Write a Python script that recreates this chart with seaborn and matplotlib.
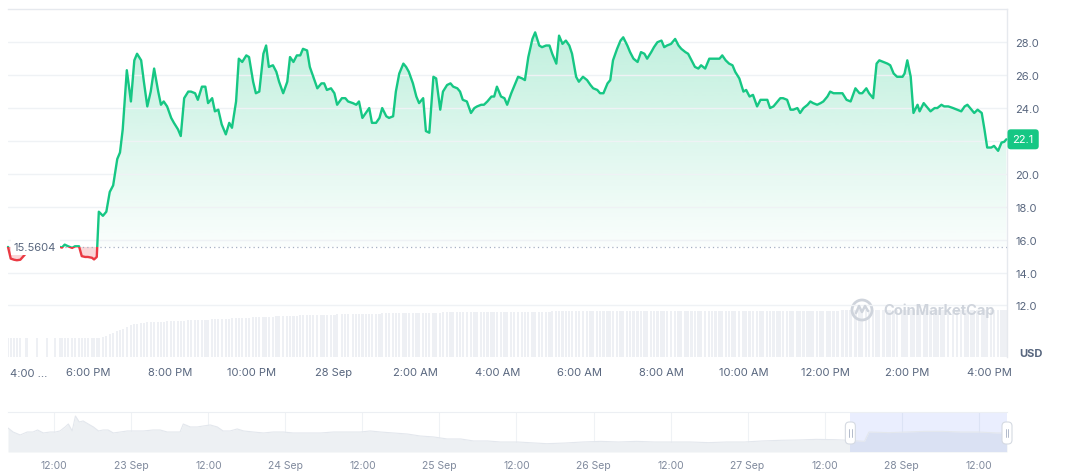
import matplotlib
matplotlib.use("Agg")
import matplotlib.pyplot as plt
import matplotlib.transforms as mtransforms
from matplotlib.colors import to_rgb
from matplotlib.patches import Rectangle, FancyBboxPatch, Ellipse
from matplotlib.path import Path
from matplotlib.lines import Line2D
import numpy as np
import pandas as pd
import seaborn as sns

# main chart: minutes after 4:00 PM (27 Sep), price in USD, 24h volume (relative)
minutes = [
    3, 7, 12, 16, 21, 30, 45, 60, 72, 79,
    82, 86, 91, 97, 101, 107, 111, 116, 120, 126,
    129, 133, 136, 142, 147, 152, 157, 163, 167, 171,
    177, 183, 188, 192, 198, 202, 207, 212, 217, 223,
    227, 231, 236, 242, 246, 252, 256, 261, 267, 271,
    277, 281, 287, 292, 296, 302, 306, 311, 316, 322,
    327, 331, 337, 341, 346, 352, 356, 362, 366, 371,
    377, 381, 385, 391, 396, 400, 406, 412, 416, 421,
    426, 431, 435, 441, 445, 450, 456, 462, 466, 470,
    476, 481, 485, 492, 497, 501, 508, 513, 517, 522,
    527, 532, 536, 542, 547, 551, 557, 561, 567, 571,
    576, 582, 586, 590, 596, 601, 605, 611, 615, 620,
    626, 630, 636, 640, 646, 651, 655, 661, 665, 669,
    675, 681, 686, 690, 696, 700, 705, 711, 715, 719,
    725, 730, 734, 740, 744, 750, 756, 760, 765, 771,
    775, 781, 785, 791, 796, 800, 806, 810, 815, 820,
    825, 829, 835, 839, 845, 851, 856, 860, 866, 870,
    875, 881, 885, 889, 895, 900, 904, 910, 914, 919,
    925, 930, 935, 939, 945, 949, 954, 960, 964, 968,
    974, 980, 985, 989, 995, 999, 1004, 1009, 1014, 1018,
    1024, 1030, 1034, 1039, 1045, 1049, 1054, 1059, 1064, 1068,
    1074, 1080, 1084, 1089, 1094, 1100, 1105, 1109, 1115, 1119,
    1124, 1130, 1134, 1138, 1144, 1149, 1153, 1159, 1163, 1168,
    1174, 1178, 1182, 1188, 1193, 1197, 1203, 1207, 1212, 1218,
    1225, 1231, 1237, 1244, 1250, 1254, 1260, 1264, 1270, 1275,
    1279, 1285, 1291, 1295, 1300, 1305, 1313, 1316, 1320, 1325,
    1329, 1335, 1338, 1344, 1348, 1354, 1360, 1364, 1370, 1374,
    1380, 1387, 1393, 1399, 1404, 1408, 1414, 1418, 1423, 1429,
    1433, 1437, 1443, 1447, 1453, 1458, 1462, 1465,
]
price = [
    15.56, 14.85, 14.78, 14.75, 14.78, 15.2, 15.45, 15.6, 15.55, 15.56,
    15.52, 15.7, 15.6, 15.5, 15.6, 15.6, 15.0, 14.95, 14.95, 14.9,
    14.8, 14.95, 17.7, 17.45, 17.7, 18.9, 19.3, 20.9, 21.3, 22.7,
    26.3, 24.4, 26.9, 27.3, 26.9, 25.6, 24.1, 25.0, 26.4, 25.0,
    24.2, 24.4, 24.1, 23.4, 23.1, 22.7, 22.3, 24.6, 25.0, 25.0,
    24.9, 24.5, 25.3, 25.3, 24.3, 24.6, 23.8, 23.9, 23.0, 22.4,
    23.1, 22.8, 24.4, 27.0, 26.8, 27.2, 27.1, 25.6, 24.9, 25.0,
    27.3, 27.8, 26.5, 26.6, 26.2, 25.6, 24.9, 25.6, 27.1, 26.8,
    27.2, 27.2, 27.6, 27.5, 26.5, 25.9, 25.2, 25.5, 25.5, 25.1,
    25.2, 24.9, 24.2, 24.6, 24.6, 24.4, 24.3, 24.2, 24.4, 23.4,
    23.7, 24.0, 23.1, 23.1, 23.4, 24.0, 23.5, 23.4, 23.5, 25.0,
    26.1, 26.7, 26.5, 26.2, 25.5, 24.7, 24.3, 24.6, 22.6, 22.5,
    25.9, 25.8, 23.9, 25.0, 25.4, 25.5, 25.3, 25.2, 25.0, 24.5,
    24.4, 23.7, 24.0, 24.1, 24.2, 24.2, 24.4, 24.7, 24.7, 25.3,
    24.7, 24.6, 24.2, 24.9, 25.3, 25.9, 25.8, 25.7, 27.1, 28.2,
    28.6, 27.8, 27.7, 27.8, 27.8, 27.3, 26.7, 28.4, 27.9, 28.1,
    27.8, 27.3, 25.9, 25.6, 25.9, 25.7, 25.4, 25.2, 25.1, 24.9,
    24.9, 25.5, 25.7, 26.9, 27.6, 28.1, 28.3, 27.8, 27.4, 27.0,
    26.8, 27.4, 27.3, 27.0, 27.4, 27.7, 28.0, 28.1, 27.7, 27.8,
    27.9, 28.2, 27.8, 27.6, 27.4, 27.3, 26.9, 26.5, 26.4, 26.6,
    26.4, 27.0, 27.0, 27.0, 27.0, 27.2, 26.9, 26.7, 26.6, 26.2,
    25.8, 25.0, 25.1, 24.7, 24.8, 24.1, 24.5, 24.5, 24.5, 24.0,
    24.1, 24.4, 24.6, 24.6, 24.5, 23.9, 23.9, 24.0, 23.7, 24.0,
    24.2, 24.4, 24.3, 24.2, 24.3, 24.4, 24.7, 25.0, 24.9, 24.9,
    24.9, 24.5, 24.4, 25.2, 24.9, 24.9, 25.2, 24.9, 24.6, 26.7,
    26.9, 26.8, 26.7, 26.6, 26.1, 25.9, 25.9, 26.1, 26.9, 25.9,
    23.7, 24.2, 23.8, 24.3, 24.1, 23.8, 24.0, 24.0, 24.2, 24.1,
    24.1, 24.0, 23.9, 23.8, 24.1, 24.2, 23.9, 23.7, 23.9, 23.7,
    22.7, 21.6, 21.6, 21.7, 21.4, 21.9, 21.95, 22.1,
]
volume = [
    1.9, 1.9, 1.9, 1.9, 1.9, 1.9, 1.9, 1.9, 1.9, 1.9,
    1.9, 1.9, 1.9, 1.9, 1.9, 1.9, 1.9, 1.9, 1.9, 1.9,
    1.9, 1.9, 1.9, 2.0, 2.1, 2.3, 2.4, 2.6, 2.7, 2.8,
    3.0, 3.2, 3.3, 3.35, 3.4, 3.45, 3.5, 3.5, 3.5, 3.55,
    3.55, 3.55, 3.6, 3.6, 3.6, 3.65, 3.65, 3.65, 3.7, 3.7,
    3.7, 3.7, 3.75, 3.75, 3.75, 3.8, 3.8, 3.8, 3.85, 3.85,
    3.85, 3.9, 3.9, 3.9, 3.95, 3.95, 3.95, 4.0, 4.0, 4.0,
    4.0, 4.05, 4.05, 4.05, 4.1, 4.1, 4.1, 4.1, 4.15, 4.15,
    4.15, 4.2, 4.2, 4.2, 4.2, 4.2, 4.2, 4.25, 4.25, 4.25,
    4.25, 4.25, 4.3, 4.3, 4.3, 4.3, 4.3, 4.3, 4.35, 4.35,
    4.35, 4.35, 4.35, 4.35, 4.35, 4.4, 4.4, 4.4, 4.4, 4.4,
    4.4, 4.4, 4.4, 4.4, 4.45, 4.45, 4.45, 4.45, 4.45, 4.45,
    4.45, 4.45, 4.45, 4.5, 4.5, 4.5, 4.5, 4.5, 4.5, 4.5,
    4.5, 4.5, 4.5, 4.5, 4.5, 4.55, 4.55, 4.55, 4.55, 4.55,
    4.55, 4.55, 4.55, 4.55, 4.55, 4.55, 4.55, 4.55, 4.55, 4.55,
    4.55, 4.55, 4.55, 4.55, 4.55, 4.6, 4.6, 4.6, 4.6, 4.6,
    4.6, 4.6, 4.6, 4.6, 4.6, 4.6, 4.6, 4.6, 4.6, 4.6,
    4.6, 4.6, 4.6, 4.6, 4.6, 4.6, 4.6, 4.6, 4.6, 4.6,
    4.6, 4.6, 4.6, 4.6, 4.6, 4.6, 4.6, 4.6, 4.6, 4.6,
    4.6, 4.6, 4.6, 4.6, 4.6, 4.6, 4.65, 4.65, 4.65, 4.65,
    4.65, 4.65, 4.65, 4.65, 4.65, 4.65, 4.65, 4.65, 4.65, 4.65,
    4.65, 4.65, 4.65, 4.65, 4.65, 4.65, 4.65, 4.65, 4.65, 4.65,
    4.65, 4.65, 4.65, 4.65, 4.65, 4.65, 4.65, 4.65, 4.65, 4.65,
    4.65, 4.65, 4.65, 4.65, 4.65, 4.65, 4.65, 4.65, 4.65, 4.65,
    4.7, 4.7, 4.7, 4.7, 4.7, 4.7, 4.7, 4.7, 4.7, 4.7,
    4.7, 4.7, 4.7, 4.7, 4.7, 4.7, 4.7, 4.7, 4.7, 4.7,
    4.7, 4.7, 4.7, 4.7, 4.7, 4.7, 4.7, 4.7, 4.7, 4.7,
    4.7, 4.7, 4.7, 4.7, 4.7, 4.7, 4.7, 4.7, 4.7, 4.7,
    4.7, 4.7, 4.7, 4.7, 4.7, 4.7, 4.7, 4.7,
]
open_price = 15.5604
last_price = 22.1

time_ticks = [120, 240, 360, 480, 600, 720, 840, 960, 1080, 1200, 1320, 1440]
time_labels = ["6:00 PM", "8:00 PM", "10:00 PM", "28 Sep", "2:00 AM", "4:00 AM",
               "6:00 AM", "8:00 AM", "10:00 AM", "12:00 PM", "2:00 PM", "4:00 PM"]
price_ticks = [12, 14, 16, 18, 20, 22, 24, 26, 28]

# navigator: hours after 22 Sep 00:00, price in USD
nav_hours = [
    4.8, 5.6, 6.7, 7.8, 8.7, 9.4, 10.3, 11.4, 12.2, 12.9,
    13.7, 14.2, 14.8, 15.3, 15.9, 16.5, 17.3, 18.1, 18.9, 19.6,
    20.4, 21.2, 22.3, 23.4, 24.3, 25.9, 27.4, 28.5, 29.6, 30.5,
    31.6, 32.1, 33.2, 34.3, 35.2, 36.3, 37.4, 38.3, 39.4, 40.5,
    41.5, 43.0, 44.6, 46.1, 47.7, 49.2, 51.4, 53.5, 55.5, 57.7,
    59.7, 61.2, 62.8, 64.8, 67.0, 69.0, 71.1, 73.2, 75.3, 77.3,
    79.5, 81.5, 84.2, 85.9, 88.7, 91.5, 94.3, 97.1, 99.9, 102.7,
    105.5, 108.3, 111.1, 113.9, 116.7, 119.5, 122.3, 125.1, 127.9, 130.7,
    133.6, 136.0, 138.2, 138.9, 142.0, 144.8, 147.6, 150.4, 153.2, 156.0,
    158.8, 160.4,
]
nav_price = [
    30.0, 25.0, 21.3, 25.0, 25.0, 27.5, 23.8, 25.0, 25.0, 26.3,
    31.3, 35.0, 26.3, 45.0, 37.5, 38.8, 35.0, 31.3, 26.3, 27.5,
    27.5, 23.8, 25.0, 26.3, 26.3, 26.3, 27.5, 27.5, 25.0, 25.0,
    25.0, 35.0, 31.3, 31.3, 32.5, 33.8, 31.3, 26.3, 26.3, 28.8,
    26.3, 25.0, 23.8, 25.0, 25.0, 23.8, 23.8, 23.8, 25.0, 25.0,
    25.0, 26.3, 25.0, 23.8, 22.5, 20.0, 18.8, 16.3, 16.3, 13.8,
    13.8, 12.5, 12.5, 11.7, 10.4, 11.2, 12.5, 13.3, 12.5, 13.3,
    12.5, 12.5, 12.5, 11.7, 12.5, 12.5, 13.8, 14.6, 15.0, 15.8,
    15.4, 14.6, 13.3, 25.0, 24.2, 25.0, 25.8, 25.8, 25.0, 25.0,
    23.8, 23.8,
]
nav_ticks = [12, 24, 36, 48, 60, 72, 84, 96, 108, 120, 132, 144, 156]
nav_labels = ["12:00", "23 Sep", "12:00", "24 Sep", "12:00", "25 Sep", "12:00",
              "26 Sep", "12:00", "27 Sep", "12:00", "28 Sep", "12:00"]
selection = (136.0, 160.4)

GREEN = "#16c784"
RED = "#ea3943"
TEXT = "#58667e"
GRID = "#eff2f5"

sns.set_theme(style="white")
plt.rcParams["font.family"] = ["Inter", "DejaVu Sans"]

W, H = 1072, 477
fig = plt.figure(figsize=(W / 100, H / 100), dpi=100, facecolor="white")


def box(left, top, right, bottom):
    return [left / W, 1 - bottom / H, (right - left) / W, (bottom - top) / H]


df = pd.DataFrame({"minute": minutes, "price": price, "volume": volume})
xlim = (3, 1466)

# volume strip under the price chart
vol_ax = fig.add_axes(box(8, 306, 1007, 358), zorder=0)
vol_ax.bar(df["minute"], df["volume"], width=3.4, color="#eef0f4", linewidth=0)
vol_ax.set_xlim(*xlim)
vol_ax.set_ylim(0, 5.2)
vol_ax.axis("off")

ax = fig.add_axes(box(8, 9.5, 1007, 358), zorder=1)
ax.set_facecolor("none")

m = df["minute"].to_numpy()
p = df["price"].to_numpy()

# gradient fill above the open price
poly = ax.fill_between(m, p, open_price, where=p >= open_price, interpolate=True,
                       facecolor="none", edgecolor="none")
clip = Path.make_compound_path(*poly.get_paths())
grad = np.zeros((256, 1, 4))
grad[..., :3] = to_rgb(GREEN)
grad[:, 0, 3] = np.linspace(0.02, 0.27, 256)
im = ax.imshow(grad, extent=[m.min(), m.max(), open_price, p.max()], origin="lower",
               aspect="auto", zorder=1, interpolation="bilinear")
im.set_clip_path(clip, ax.transData)

# pink fill below the open price
ax.fill_between(m, p, open_price, where=p < open_price, interpolate=True,
                color=RED, alpha=0.2, linewidth=0, zorder=1)

sns.lineplot(data=df, x="minute", y="price", color=GREEN, linewidth=1.7,
             estimator=None, ax=ax, zorder=3)
up = ax.lines[-1]
sns.lineplot(data=df, x="minute", y="price", color=RED, linewidth=1.7,
             estimator=None, ax=ax, zorder=3)
down = ax.lines[-1]
up.set_clip_path(Rectangle((0, open_price), 2000, 100, transform=ax.transData))
down.set_clip_path(Rectangle((0, 0), 2000, open_price, transform=ax.transData))
for ln in (up, down):
    ln.set_solid_joinstyle("round")
    ln.set_solid_capstyle("round")

ax.set_xlim(*xlim)
ax.set_ylim(8.87, 30.05)

ax.axhline(open_price, color="#a6b0c3", linewidth=0.9, linestyle=(0, (1, 2.5)), zorder=2)
blend = mtransforms.blended_transform_factory(ax.transAxes, ax.transData)
ax.text(0.006, open_price, f"{open_price:.4f}", transform=blend, ha="left", va="center",
        fontsize=8, color=TEXT, zorder=5,
        bbox=dict(facecolor="white", edgecolor="none", pad=2.5))

# current price tag sits on the right axis, over the 22.0 tick
ax.text(1.0055, last_price, f"{last_price:.1f}", transform=blend, ha="left", va="center",
        fontsize=8, color="white", zorder=5,
        bbox=dict(boxstyle="round,pad=0.45,rounding_size=0.3", facecolor=GREEN, edgecolor="none"))

ax.set_xlabel("")
ax.set_ylabel("")
ax.yaxis.tick_right()
ax.set_yticks(price_ticks, ["" if v == 22 else f"{v:.1f}" for v in price_ticks])
ax.set_xticks(time_ticks, time_labels)
ax.tick_params(axis="y", length=0, pad=6, labelsize=8, labelcolor=TEXT)
ax.tick_params(axis="x", length=0, pad=7, labelsize=8, labelcolor=TEXT)
ax.grid(axis="y", color=GRID, linewidth=1)
ax.grid(axis="x", visible=False)
ax.set_axisbelow("line")
for side in ("left", "bottom"):
    ax.spines[side].set_visible(False)
for side in ("top", "right"):
    ax.spines[side].set_color("#e6e9ee")
    ax.spines[side].set_linewidth(1)

fig.text(10 / W, 1 - 374 / H, "4:00 ...", ha="left", va="center", fontsize=8, color=TEXT)
fig.text(1019 / W, 1 - 354 / H, "USD", ha="left", va="center", fontsize=8,
         weight="bold", color=TEXT)

# watermark
wm = "#cfd4dc"
fig.text(883 / W, 1 - 311 / H, "CoinMarketCap", ha="left", va="center", fontsize=10.5,
         weight="bold", color=wm)
fig.add_artist(Ellipse((862 / W, 1 - 311 / H), 20 / W, 20 / H, fill=False,
                       edgecolor=wm, linewidth=2))
cx, cy = 862, 311
zig_x = [cx - 6, cx - 3, cx, cx + 3, cx + 6]
zig_y = [cy + 3, cy - 4, cy + 2, cy - 4, cy + 1]
fig.add_artist(Line2D([v / W for v in zig_x], [1 - v / H for v in zig_y],
                      color=wm, linewidth=1.8, solid_joinstyle="round"))

# navigator
nav = fig.add_axes(box(8, 413, 1007, 453))
nav.fill_between(nav_hours, nav_price, 0, color="#edf0f3", linewidth=0)
sns.lineplot(x=nav_hours, y=nav_price, color="#e3e7ed", linewidth=0.8, ax=nav)
nav.axvspan(*selection, color="#3861fb", alpha=0.1, linewidth=0)
nav.set_xlim(nav_hours[0], nav_hours[-1])
nav.set_ylim(0, 50)
nav.set_yticks([])
nav.set_xticks(nav_ticks, nav_labels)
nav.tick_params(axis="x", length=0, pad=6, labelsize=7.5, labelcolor="#808a9d")
nav.grid(axis="x", color=GRID, linewidth=0.8)
nav.set_axisbelow(True)
for side in ("left", "bottom", "right"):
    nav.spines[side].set_visible(False)
nav.spines["top"].set_color("#eceff3")
nav.spines["top"].set_linewidth(0.8)

# selection handles
fig.canvas.draw()
ident = mtransforms.IdentityTransform()
for h in selection:
    hx = nav.transData.transform((h, 0))[0]
    hy = nav.transAxes.transform((0, 0.475))[1]
    fig.add_artist(FancyBboxPatch((hx - 5, hy - 11), 10, 22,
                                  boxstyle="round,pad=0,rounding_size=4",
                                  facecolor="white", edgecolor="#d5dae2", linewidth=0.8,
                                  transform=ident, zorder=10))
    for dx in (-1.3, 1.3):
        fig.add_artist(Line2D([hx + dx, hx + dx], [hy - 4, hy + 4], color="#a6b0c3",
                              linewidth=0.6, transform=ident, zorder=11))

fig.savefig("out.png", dpi=100, facecolor="white")
